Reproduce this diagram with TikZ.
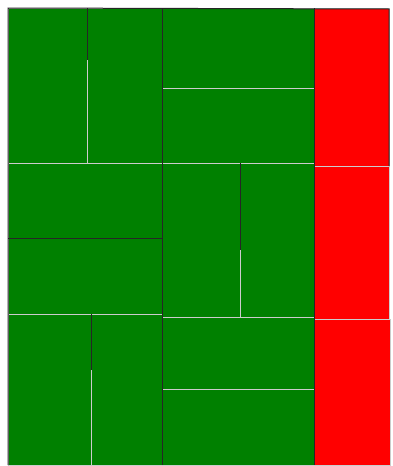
\documentclass[tikz,border=0pt]{standalone}
\definecolor{dgreen}{RGB}{0,128,0}
\definecolor{dred}{RGB}{255,0,0}
\begin{document}
\begin{tikzpicture}[x=1pt,y=-1pt,
  gtile/.style={fill=dgreen,draw=gray!40,line width=0.8pt},
  rtile/.style={fill=dred,draw=gray!40,line width=0.8pt},
  edge/.style={draw=black!85,line width=1pt}]
\useasboundingbox (0,0) rectangle (392,466);
\fill[white] (0,0) rectangle (392,466);
% row 1
\path[gtile] (8,8) rectangle (87,163);
\path[gtile] (87,8) rectangle (162,163);
\path[gtile] (162,8) rectangle (314,88);
\path[gtile] (162,88) rectangle (314,163);
\path[rtile] (314,8) rectangle (389,166);
% row 2
\path[gtile] (8,163) rectangle (162,238);
\path[gtile] (8,238) rectangle (162,314);
\path[gtile] (162,163) rectangle (240,317);
\path[gtile] (240,163) rectangle (314,317);
\path[rtile] (314,166) rectangle (389,319);
% row 3
\path[gtile] (8,314) rectangle (91,465);
\path[gtile] (91,314) rectangle (162,465);
\path[gtile] (162,317) rectangle (314,389);
\path[gtile] (162,389) rectangle (314,465);
\path[rtile] (314,319) rectangle (390,465);
% dark edges
\draw[edge] (8,465) -- (8,8) -- (389,9) -- (389,166);
\draw[edge] (162,8) -- (162,465);
\draw[edge] (314,8) -- (314,465);
\draw[edge] (8,238) -- (162,238);
\draw[edge] (91,314) -- (91,370);
\draw[edge,line width=0.6pt] (240,163) -- (240,250);
\draw[edge,line width=0.6pt] (87,8) -- (87,60);
\end{tikzpicture}
\end{document}
